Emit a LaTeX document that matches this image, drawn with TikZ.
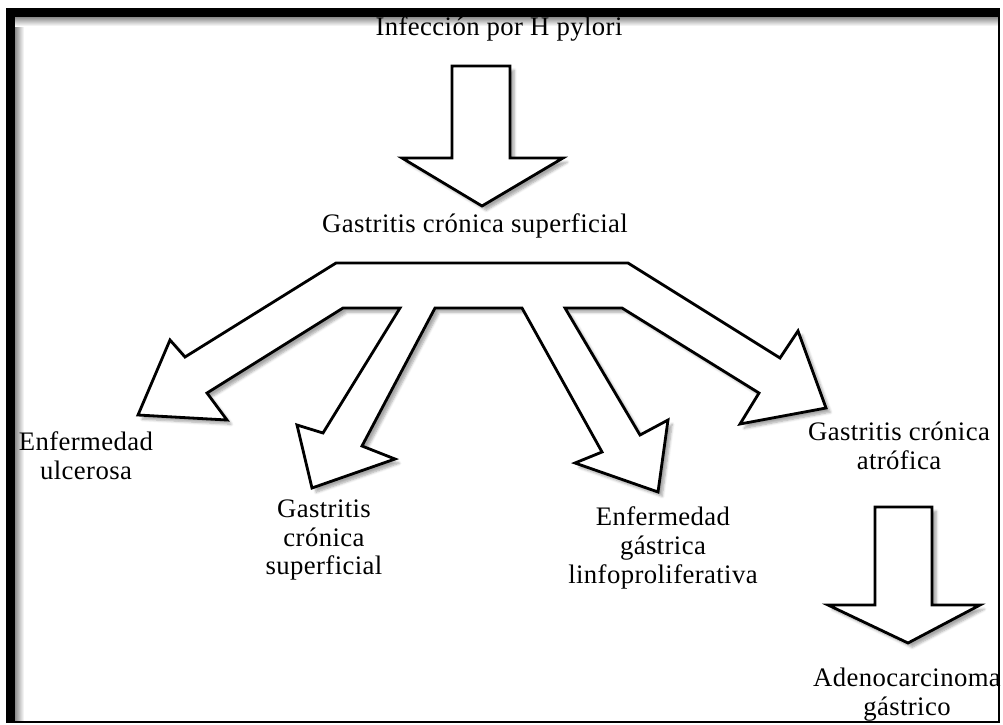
\documentclass[tikz,border=0pt]{standalone}
\usepackage{fontspec}
\setmainfont[LetterSpace=1.5]{Liberation Serif}
\usepackage{tikz}
\usetikzlibrary{shadows.blur}

\begin{document}
\begin{tikzpicture}[x=0.025cm, y=-0.025cm]
\tikzstyle{every node}+=[inner sep=0pt, align=center, font=\fontsize{19}{20.5}\selectfont]
\tikzstyle{blockarrow}=[black, line width=2pt, line join=miter, fill=white,
  blur shadow={shadow xshift=3pt, shadow yshift=-3pt, shadow blur steps=6, shadow opacity=35}]
\useasboundingbox (0,0) rectangle (1003,724);
% sombra interior del marco
\shade [left color=black!45, right color=white] (15,17) rectangle (24,722);
\shade [top color=black!45, bottom color=white] (15,17) rectangle (999,26);
% titulo
\node [anchor=base] (infeccion) at (499,35) {Infección por H pylori};
% flecha de arriba
\draw [blockarrow] (452,66) -- (510,66) -- (510,158) -- (563,158) -- (482,206)
  -- (402,158) -- (452,158) -- cycle;
\node (gcs) at (475,226) {Gastritis crónica superficial};
% flecha de cuatro ramas
\draw [blockarrow] (336,263) -- (628,263) -- (780,358) -- (798,331) -- (826,408)
  -- (740,424) -- (759,393) -- (622,308) -- (565,308) -- (640,435) -- (668,420)
  -- (658,492) -- (575,463) -- (602,452) -- (522,308) -- (435,308) -- (362,446)
  -- (395,459) -- (312,488) -- (297,425) -- (323,433) -- (400,308) -- (343,308)
  -- (207,393) -- (227,420) -- (138,415) -- (170,340) -- (185,357) -- cycle;
\node (ulcerosa) at (86,456) {Enfermedad\\ulcerosa};
\node (gcs2) at (324,540) {Gastritis\\crónica\\superficial};
\node (linfo) at (663,548) {Enfermedad\\gástrica\\linfoproliferativa};
\node (atrofica) at (899,446) {Gastritis crónica\\atrófica};
% flecha de abajo
\draw [blockarrow] (875,507) -- (932,507) -- (932,605) -- (980,605) -- (908,643)
  -- (828,605) -- (875,605) -- cycle;
\node (adeno) at (907,695) {Adenocarcinoma\\gástrico};
% marco
\draw [line width=1.2pt] (7,9) rectangle (999,722);
\fill [black] (7,9) rectangle (1000,17);
\fill [black] (7,9) rectangle (15,722);
\end{tikzpicture}
\end{document}
